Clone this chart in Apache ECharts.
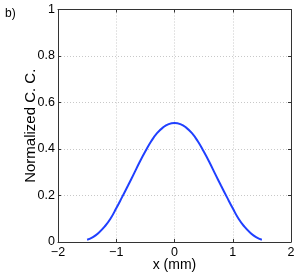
<!DOCTYPE html>
<html>
<head>
<meta charset="utf-8">
<script src="https://cdn.jsdelivr.net/npm/echarts@6/dist/echarts.min.js"></script>
<style>html,body{margin:0;padding:0;background:#fff}#c{width:297px;height:273px}</style>
</head>
<body>
<div id="c"></div>
<script>
var xValues = [-1.5,-1.4,-1.3,-1.2,-1.1,-1.0,-0.9,-0.8,-0.7,-0.6,-0.5,-0.4,-0.3,-0.2,-0.1,0,0.1,0.2,0.3,0.4,0.5,0.6,0.7,0.8,0.9,1.0,1.1,1.2,1.3,1.4,1.5];
var ccValues = [0.010,0.021,0.040,0.066,0.100,0.145,0.193,0.242,0.292,0.343,0.390,0.433,0.468,0.492,0.507,0.512,0.507,0.492,0.468,0.433,0.390,0.343,0.292,0.242,0.193,0.145,0.100,0.066,0.040,0.021,0.010];
var xTicks = [-2,-1,0,1,2];
var yTicks = [0,0.2,0.4,0.6,0.8,1];
var panelLabel = 'b)';
var xName = 'x (mm)';
var yName = 'Normalized C. C.';

var chart = echarts.init(document.getElementById('c'), null, {renderer:'canvas'});
var font = 'Liberation Sans, Arial, sans-serif';
var axisCol = '#333';
function fmt(v){ var s = String(Math.round(v*10)/10); return s.replace('-', '\u2212'); }
var pts = xValues.map(function(x,i){return [x, ccValues[i]];});
chart.setOption({
  animation:false,
  backgroundColor:'#fff',
  title:{text:panelLabel,left:0,top:3,textStyle:{fontFamily:font,fontSize:12,fontWeight:'normal',color:'#000'}},
  grid:{left:58,right:6,top:9.5,bottom:31,containLabel:false,outerBoundsMode:'none'},
  xAxis:[{
    type:'value',min:xTicks[0],max:xTicks[xTicks.length-1],interval:1,position:'bottom',
    name:xName,nameLocation:'middle',nameGap:16,nameMoveOverlap:false,
    nameTextStyle:{fontFamily:font,fontSize:14,color:'#000'},
    axisLine:{show:true,onZero:false,lineStyle:{color:axisCol,width:1}},
    axisTick:{show:true,inside:true,length:3,lineStyle:{color:axisCol}},
    axisLabel:{fontFamily:font,fontSize:12.5,color:'#000',margin:4,formatter:fmt},
    splitLine:{show:true,lineStyle:{color:'#c8c8c8',type:[1,2],width:1}}
  },{
    type:'value',min:xTicks[0],max:xTicks[xTicks.length-1],interval:1,position:'top',
    axisLine:{show:true,onZero:false,lineStyle:{color:axisCol,width:1}},
    axisTick:{show:true,inside:true,length:3,lineStyle:{color:axisCol}},
    axisLabel:{show:false},splitLine:{show:false}
  }],
  yAxis:[{
    type:'value',min:yTicks[0],max:yTicks[yTicks.length-1],interval:0.2,position:'left',
    name:yName,nameLocation:'middle',nameGap:20,nameMoveOverlap:false,
    nameTextStyle:{fontFamily:font,fontSize:15,color:'#000'},
    axisLine:{show:true,onZero:false,lineStyle:{color:axisCol,width:1}},
    axisTick:{show:true,inside:true,length:3,lineStyle:{color:axisCol}},
    axisLabel:{fontFamily:font,fontSize:12.5,color:'#000',margin:3,formatter:fmt},
    splitLine:{show:true,lineStyle:{color:'#c8c8c8',type:[1,2],width:1}}
  },{
    type:'value',min:yTicks[0],max:yTicks[yTicks.length-1],interval:0.2,position:'right',
    axisLine:{show:true,onZero:false,lineStyle:{color:axisCol,width:1}},
    axisTick:{show:true,inside:true,length:3,lineStyle:{color:axisCol}},
    axisLabel:{show:false},splitLine:{show:false}
  }],
  series:[{
    type:'line',data:pts,xAxisIndex:0,yAxisIndex:0,smooth:true,showSymbol:false,
    lineStyle:{color:'#2040ff',width:2},itemStyle:{color:'#2040ff'}
  }]
});
</script>
</body>
</html>
